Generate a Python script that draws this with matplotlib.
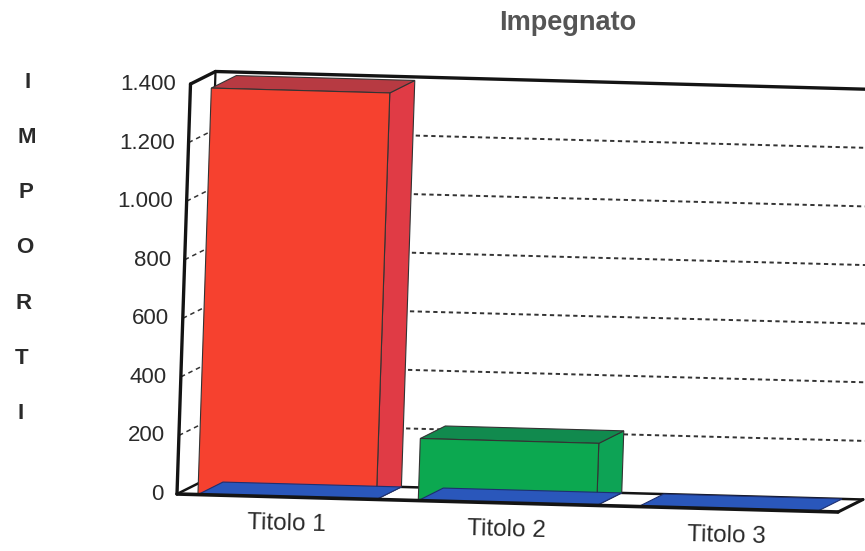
import matplotlib
matplotlib.use("Agg")
from matplotlib import pyplot as plt

plt.rcParams['font.family'] = ['Liberation Sans', 'DejaVu Sans']

categories = ['Titolo 1', 'Titolo 2', 'Titolo 3']
base_values = [0, 0, 0]
red_values = [1388, 0, 0]
green_values = [0, 212, 0]
y_ticks = [0, 200, 400, 600, 800, 1000, 1200, 1400]
y_labels = ['0', '200', '400', '600', '800', '1.000', '1.200', '1.400']
y_title = list('IMPORTI')

VMAX = 1400
BAR_W = 0.27  # share of the floor width


def proj(u, v, w):
    """ scanned 3d chart: u across the floor 0-1, v value, w depth 0-1. returns pixels """
    x = 177 + 661 * u + 13.5 * v / VMAX + 25 * w
    y = 494 + 18 * u - 410 * v / VMAX - 12.5 * w
    return x, y


def face(ax, corners, color, edge='#333333', lw=0.8, zorder=3):
    ax.fill(*zip(*[proj(*c) for c in corners]), facecolor=color, edgecolor=edge,
            linewidth=lw, zorder=zorder)


def line(ax, a, b, lw=2.4, color='#141414', zorder=2, **kw):
    pa, pb = proj(*a), proj(*b)
    ax.plot([pa[0], pb[0]], [pa[1], pb[1]], color=color, lw=lw, zorder=zorder,
            solid_capstyle='round', **kw)


def bar(ax, i, v0, v1, front, top, side):
    u0 = (i + 0.5) / 3 - BAR_W / 2
    u1 = u0 + BAR_W
    face(ax, [(u1, v0, 0), (u1, v0, 1), (u1, v1, 1), (u1, v1, 0)], side)
    face(ax, [(u0, v1, 0), (u1, v1, 0), (u1, v1, 1), (u0, v1, 1)], top)
    face(ax, [(u0, v0, 0), (u1, v0, 0), (u1, v1, 0), (u0, v1, 0)], front)


fig = plt.figure(figsize=(8.65, 5.51), dpi=100)
ax = fig.add_axes([0, 0, 1, 1])
ax.set_xlim(0, 865)
ax.set_ylim(551, 0)
ax.axis('off')

# gridlines, side wall then back wall
for v in y_ticks[1:-1]:
    line(ax, (0, v, 0), (0, v, 1), lw=1.1, color='#333333', linestyle=(0, (3, 2.5)), zorder=1)
    line(ax, (0, v, 1), (1, v, 1), lw=1.4, color='#333333', linestyle=(0, (2.2, 1.8)), zorder=1)

# frame
line(ax, (0, 0, 0), (0, VMAX, 0))
line(ax, (0, VMAX, 0), (0, VMAX, 1))
line(ax, (0, VMAX, 1), (1, VMAX, 1))
line(ax, (0, 0, 1), (0, VMAX, 1), lw=1.6)
line(ax, (0, 0, 0), (0, 0, 1), lw=1.8)
line(ax, (0, 0, 1), (1, 0, 1), lw=1.8)
line(ax, (1, 0, 0), (1, 0, 1), lw=2.2)

for i in range(len(categories)):
    if red_values[i] > 0:
        bar(ax, i, base_values[i], red_values[i], '#F6412F', '#B73A42', '#E03B45')
    if green_values[i] > 0:
        bar(ax, i, base_values[i], green_values[i], '#0CA850', '#118A4E', '#0DA355')

# zero height series on the floor, lies over the other bars
for i in range(len(categories)):
    u0 = (i + 0.5) / 3 - BAR_W / 2
    u1 = u0 + BAR_W
    face(ax, [(u0, base_values[i], 0), (u1, base_values[i], 0), (u1, base_values[i], 1),
              (u0, base_values[i], 1)], '#2A57BB', edge='#1E2F70', zorder=4)

line(ax, (0, 0, 0), (1, 0, 0), lw=2.6, zorder=5)

for v, lab in zip(y_ticks, y_labels):
    x, y = proj(0, v, 0)
    ax.text(x - 14, y + 0.5, lab, ha='right', va='center', fontsize=16, color='#2a2a2a')

for i, cat in enumerate(categories):
    x, y = proj((i + 0.5) / 3, 0, 0)
    ax.text(x - 1, y + 27, cat, ha='center', va='center', fontsize=17.5, color='#2a2a2a',
            rotation=-1.5, rotation_mode='anchor')

for k, ch in enumerate(y_title):
    ax.text(28 - 1.2 * k, 82 + 55.3 * k, ch, ha='center', va='center', fontsize=16,
            fontweight='bold', color='#2a2a2a')

ax.text(568, 23, 'Impegnato', ha='center', va='center', fontsize=19.5, fontweight='bold',
        color='#555555')

fig.savefig('out.png', dpi=100)
